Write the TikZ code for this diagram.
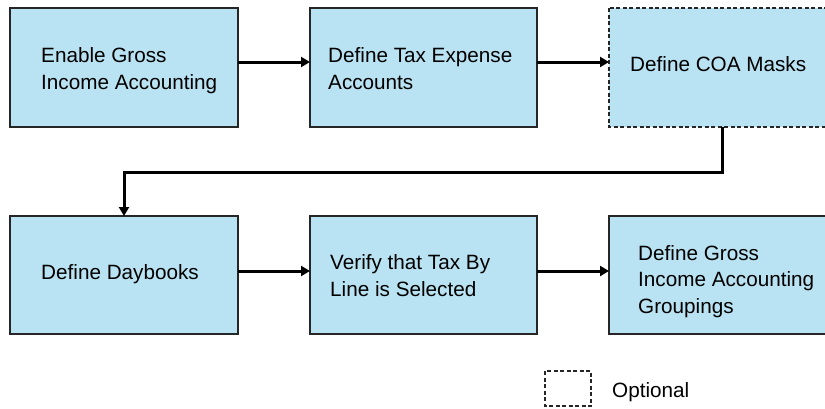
\documentclass[tikz,border=0pt]{standalone}
\usepackage{fontspec}
\setmainfont{Liberation Sans}
\usetikzlibrary{arrows.meta}
\definecolor{boxfill}{RGB}{185,227,242}
\tikzset{
  stepbox/.style={draw=black!85, line width=2.3pt, fill=boxfill, rectangle},
  optbox/.style={stepbox, dashed, dash pattern=on 4pt off 2.5pt},
  txt/.style={anchor=base west, align=left, inner sep=0pt, font=\fontsize{20.7}{26.3}\selectfont},
  flow/.style={line width=3pt, -{Triangle[length=9pt,width=10pt]}},
}
\begin{document}
\begin{tikzpicture}[x=1pt,y=-1pt]
\useasboundingbox (0,0) rectangle (825,408);
\clip (0,0) rectangle (825,408);
% row 1
\draw[stepbox] (10,8) rectangle (238,127);
\node[txt] (t1) at (41,89) {Enable Gross\\Income Accounting};
\draw[stepbox] (310,8) rectangle (537,127);
\node[txt] (t2) at (328,89) {Define Tax Expense\\Accounts};
\draw[optbox] (609,8) rectangle (840,127);
\node[txt] (t3) at (630,71) {Define COA Masks};
% row 2
\draw[stepbox] (10,216) rectangle (238,334);
\node[txt] (t4) at (41,279) {Define Daybooks};
\draw[stepbox] (310,216) rectangle (537,334);
\node[txt] (t5) at (330,296) {Verify that Tax By\\Line is Selected};
\draw[stepbox] (609,216) rectangle (840,334);
\node[txt] (t6) at (638,313) {Define Gross\\Income Accounting\\Groupings};
% coordinates for connectors
\coordinate (a1) at (238,62);
\coordinate (b1) at (310,62);
\coordinate (b2) at (537,62);
\coordinate (c1) at (609,62);
\coordinate (c3) at (722,127);
\coordinate (d1) at (124,216);
\coordinate (d2) at (238,271);
\coordinate (e1) at (310,271);
\coordinate (e2) at (537,271);
\coordinate (f1) at (609,271);
\draw[flow] (a1) -- (b1);
\draw[flow] (b2) -- (c1);
\draw[flow] (c3) -- (722,172) -- (124,172) -- (d1);
\draw[flow] (d2) -- (e1);
\draw[flow] (e2) -- (f1);
% legend
\draw[optbox, fill=none, line width=2pt] (545,371) rectangle (591,406);
\node[txt] (leg) at (612,397) {Optional};
\end{tikzpicture}
\end{document}
